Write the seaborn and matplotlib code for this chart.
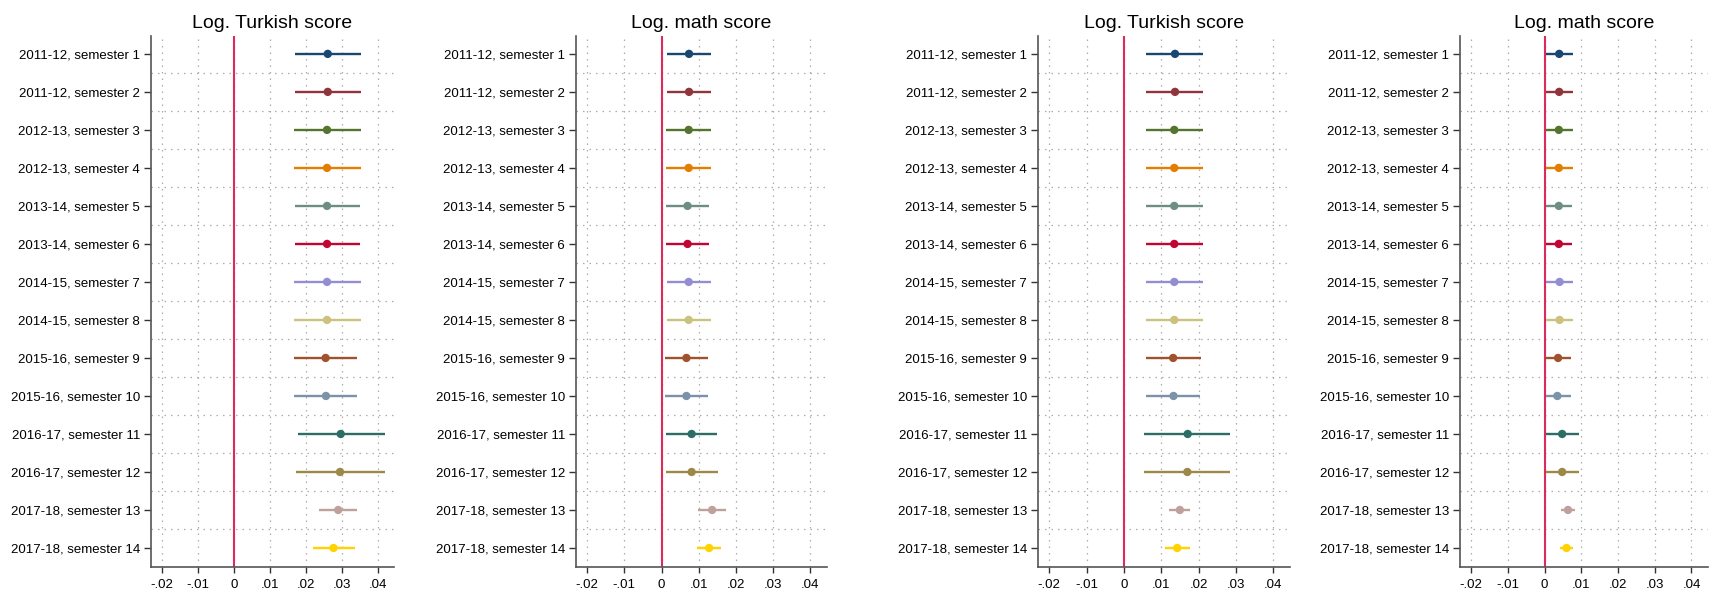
import matplotlib
matplotlib.use("Agg")
import matplotlib.pyplot as plt
import numpy as np
import pandas as pd
import seaborn as sns

sns.set_theme(style="ticks")
plt.rcParams["font.family"] = ["Liberation Sans", "DejaVu Sans"]

LABELS = [
    "2011-12, semester 1", "2011-12, semester 2", "2012-13, semester 3",
    "2012-13, semester 4", "2013-14, semester 5", "2013-14, semester 6",
    "2014-15, semester 7", "2014-15, semester 8", "2015-16, semester 9",
    "2015-16, semester 10", "2016-17, semester 11", "2016-17, semester 12",
    "2017-18, semester 13", "2017-18, semester 14",
]
# Stata s2color-style palette, one colour per semester
COLORS = [
    "#1a476f", "#90353b", "#55752f", "#e37e00", "#6e8e84", "#c10534",
    "#938dd2", "#cac27e", "#a0522d", "#7b92a8", "#2d6d66", "#9c8847",
    "#bfa19c", "#ffd200",
]
RED = "#dc2a5c"

# panel 1: Turkish, spec A
TR1_COEF = [.0261, .0261, .0259, .0259, .0259, .0259, .0259, .0259, .0255, .0256, .0297, .0295, .0290, .0277]
TR1_LO = [.0170, .0170, .0167, .0167, .0169, .0169, .0168, .0168, .0168, .0168, .0177, .0173, .0237, .0219]
TR1_HI = [.0353, .0353, .0352, .0352, .0351, .0351, .0352, .0352, .0343, .0343, .0419, .0419, .0343, .0336]
# panel 2: math, spec A
MA1_COEF = [.0074, .0074, .0073, .0073, .0070, .0070, .0073, .0073, .0067, .0067, .0081, .0081, .0136, .0128]
MA1_LO = [.0015, .0015, .0013, .0013, .0012, .0012, .0014, .0014, .0010, .0010, .0012, .0012, .0099, .0095]
MA1_HI = [.0133, .0133, .0132, .0132, .0129, .0129, .0133, .0133, .0125, .0125, .0150, .0151, .0174, .0160]
# panel 3: Turkish, spec B
TR2_COEF = [.0137, .0137, .0135, .0135, .0135, .0135, .0135, .0135, .0132, .0133, .0171, .0170, .0150, .0143]
TR2_LO = [.0060, .0060, .0060, .0060, .0060, .0060, .0060, .0060, .0059, .0059, .0055, .0053, .0122, .0109]
TR2_HI = [.0213, .0213, .0212, .0212, .0211, .0211, .0211, .0211, .0207, .0205, .0284, .0284, .0177, .0177]
# panel 4: math, spec B
MA2_COEF = [.0040, .0040, .0039, .0039, .0039, .0039, .0041, .0041, .0037, .0035, .0048, .0048, .0064, .0060]
MA2_LO = [.0003, .0003, .0003, .0003, .0004, .0004, .0005, .0005, .0001, .0003, .0003, .0003, .0046, .0042]
MA2_HI = [.0077, .0077, .0077, .0077, .0075, .0075, .0077, .0077, .0072, .0073, .0093, .0094, .0082, .0077]

XTICKS = [-0.02, -0.01, 0, 0.01, 0.02, 0.03, 0.04]
XTICKLABELS = ["-.02", "-.01", "0", ".01", ".02", ".03", ".04"]

PANELS = [
    ("Log. Turkish score", TR1_COEF, TR1_LO, TR1_HI),
    ("Log. math score", MA1_COEF, MA1_LO, MA1_HI),
    ("Log. Turkish score", TR2_COEF, TR2_LO, TR2_HI),
    ("Log. math score", MA2_COEF, MA2_LO, MA2_HI),
]
# axes left edge and width in pixels
AX_PX = [(151, 243), (576, 251), (1038, 252), (1460, 248)]
W, H = 1710, 592
TOP, BOT = 36, 567
GRID = dict(color="#acacac", lw=0.9, ls=(0, (1.2, 4)))

fig = plt.figure(figsize=(W / 100, H / 100), dpi=100)
for (title, coef, lo, hi), (left, width) in zip(PANELS, AX_PX):
    ax = fig.add_axes([left / W, 1 - BOT / H, width / W, (BOT - TOP) / H])
    df = pd.DataFrame({"label": LABELS, "row": np.arange(len(LABELS)),
                       "coef": coef, "lo": lo, "hi": hi})
    ax.hlines(df["row"], df["lo"], df["hi"], colors=COLORS, lw=1.7, zorder=3)
    sns.scatterplot(data=df, x="coef", y="row", hue="label",
                    palette=dict(zip(LABELS, COLORS)), s=36, linewidth=0,
                    legend=False, ax=ax, zorder=4)
    ax.axvline(0, color=RED, lw=1.5, zorder=2)

    ax.set_xlim(-0.023, 0.0445)
    ax.set_ylim(13.5, -0.47)
    ax.set_xticks(XTICKS)
    ax.set_xticklabels(XTICKLABELS, fontsize=9.5)
    ax.set_yticks(df["row"])
    ax.set_yticklabels(LABELS, fontsize=9.5)
    ax.set_yticks(np.arange(0.5, 13, 1), minor=True)
    ax.set_xlabel("")
    ax.set_ylabel("")

    ax.xaxis.grid(True, which="major", **GRID)
    ax.yaxis.grid(True, which="minor", **GRID)
    ax.yaxis.grid(False, which="major")
    ax.set_axisbelow(True)

    ax.tick_params(axis="y", which="major", length=5, width=1, pad=3,
                   color="#333333", labelcolor="black")
    ax.tick_params(axis="y", which="minor", length=0)
    ax.tick_params(axis="x", length=4.5, width=1, pad=4,
                   color="#333333", labelcolor="black")
    sns.despine(ax=ax)
    for side in ("left", "bottom"):
        ax.spines[side].set_color("#555555")
        ax.spines[side].set_linewidth(1.2)

    ax.set_title(title, fontsize=14, pad=6, color="black")

fig.savefig("out.png", dpi=100)
